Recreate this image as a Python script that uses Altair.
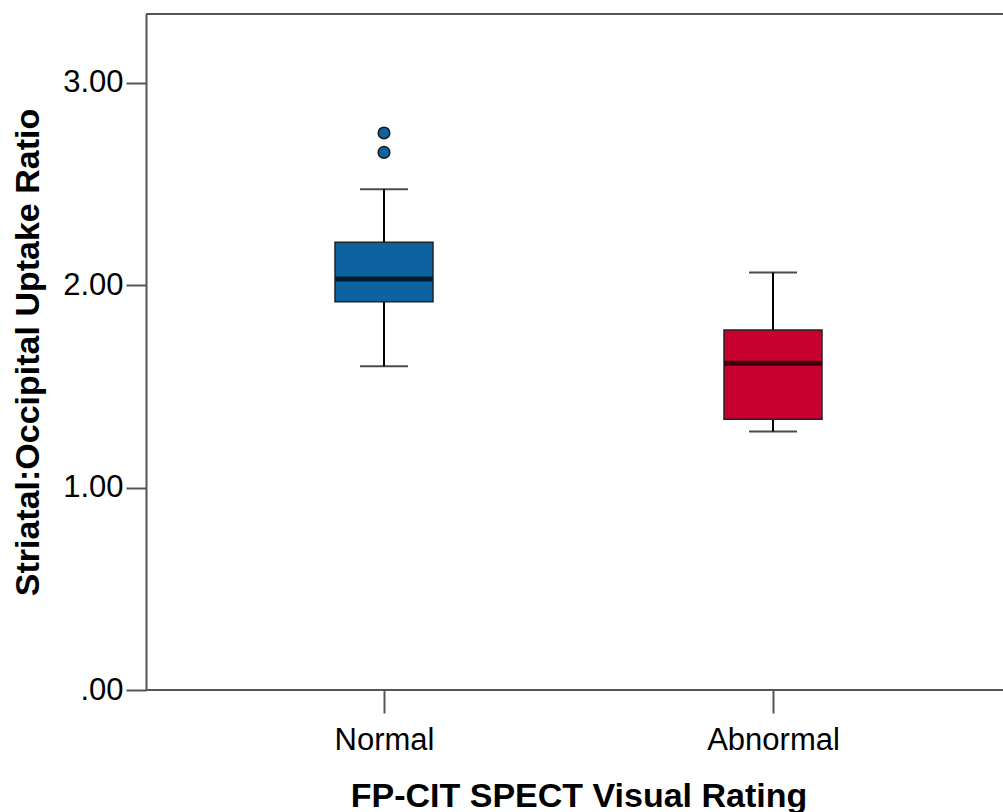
import altair as alt
import pandas as pd

# Summary statistics per visual-rating group
groups = ["Normal", "Abnormal"]
lower_whisker = [1.600, 1.277]
q1 = [1.919, 1.338]
median = [2.031, 1.615]
q3 = [2.213, 1.779]
upper_whisker = [2.475, 2.063]
box_colors = ["#0D62A0", "#C8002F"]

# Outlying cases
outlier_group = ["Normal", "Normal"]
outlier_value = [2.753, 2.657]

stats = pd.DataFrame({
    "group": groups,
    "lo": lower_whisker,
    "q1": q1,
    "med": median,
    "q3": q3,
    "hi": upper_whisker,
})
outliers = pd.DataFrame({"group": outlier_group, "value": outlier_value})

W, H = 857, 676
FONT = "Liberation Sans"
FRAME = "#555555"

x_scale = alt.Scale(type="point", range=[238, 627], padding=0)
x = alt.X(
    "group:N",
    sort=groups,
    scale=x_scale,
    axis=alt.Axis(
        title="FP-CIT SPECT Visual Rating",
        labelAngle=0,
        labelFontSize=31,
        labelFont=FONT,
        labelColor="#000000",
        labelPadding=12,
        tickSize=23,
        tickWidth=2,
        tickColor=FRAME,
        domain=False,
        titleFont=FONT,
        titleFontSize=34,
        titleFontWeight="bold",
        titleColor="#000000",
        titlePadding=24,
    ),
)

y_scale = alt.Scale(domain=[0, 3.341], nice=False, zero=True)
y_axis = alt.Axis(
    title="Striatal:Occipital Uptake Ratio",
    values=[0, 1, 2, 3],
    labelExpr="datum.value == 0 ? '.00' : format(datum.value, '.2f')",
    labelFontSize=31,
    labelFont=FONT,
    labelColor="#000000",
    labelPadding=3,
    tickSize=20,
    tickWidth=2,
    tickColor=FRAME,
    domainColor=FRAME,
    domainWidth=2,
    grid=False,
    titleFont=FONT,
    titleFontSize=34,
    titleFontWeight="bold",
    titleColor="#000000",
    titlePadding=17,
)

color = alt.Color("group:N", scale=alt.Scale(domain=groups, range=box_colors), legend=None)

base = alt.Chart(stats).encode(x=x)

whiskers = base.mark_rule(color="#000000", strokeWidth=2).encode(
    y=alt.Y("lo:Q", scale=y_scale, axis=y_axis),
    y2="hi:Q",
)

caps_low = base.mark_tick(color="#000000", size=48, thickness=2).encode(
    y=alt.Y("lo:Q", scale=y_scale)
)
caps_high = base.mark_tick(color="#000000", size=48, thickness=2).encode(
    y=alt.Y("hi:Q", scale=y_scale)
)

boxes = base.mark_bar(size=98, stroke="#222222", strokeWidth=1.5).encode(
    y=alt.Y("q1:Q", scale=y_scale),
    y2="q3:Q",
    color=color,
)

medians = base.mark_tick(color="#000000", size=97, thickness=5).encode(
    y=alt.Y("med:Q", scale=y_scale)
)

points = alt.Chart(outliers).mark_point(
    filled=True, size=135, fill="#0D62A0", stroke="#1a1a1a", strokeWidth=1.5, opacity=1
).encode(
    x=alt.X("group:N", sort=groups, scale=x_scale),
    y=alt.Y("value:Q", scale=y_scale),
)

# Frame lines along the top and bottom of the plot area
top_line = alt.Chart(stats).mark_rule(color=FRAME, strokeWidth=2).encode(
    x=alt.value(0), x2=alt.value(W), y=alt.value(0)
)
bottom_line = alt.Chart(stats).mark_rule(color=FRAME, strokeWidth=2).encode(
    x=alt.value(0), x2=alt.value(W), y=alt.value(H)
)

chart = alt.layer(
    whiskers, caps_low, caps_high, boxes, medians, points, top_line, bottom_line
).properties(
    width=W,
    height=H,
    padding={"left": 146, "top": 14, "right": 0, "bottom": 122},
    autosize=alt.AutoSizeParams(type="none"),
    background="#ffffff",
).configure_view(stroke=None)

chart.save("out.html", embed_options={"renderer": "svg", "actions": False})
